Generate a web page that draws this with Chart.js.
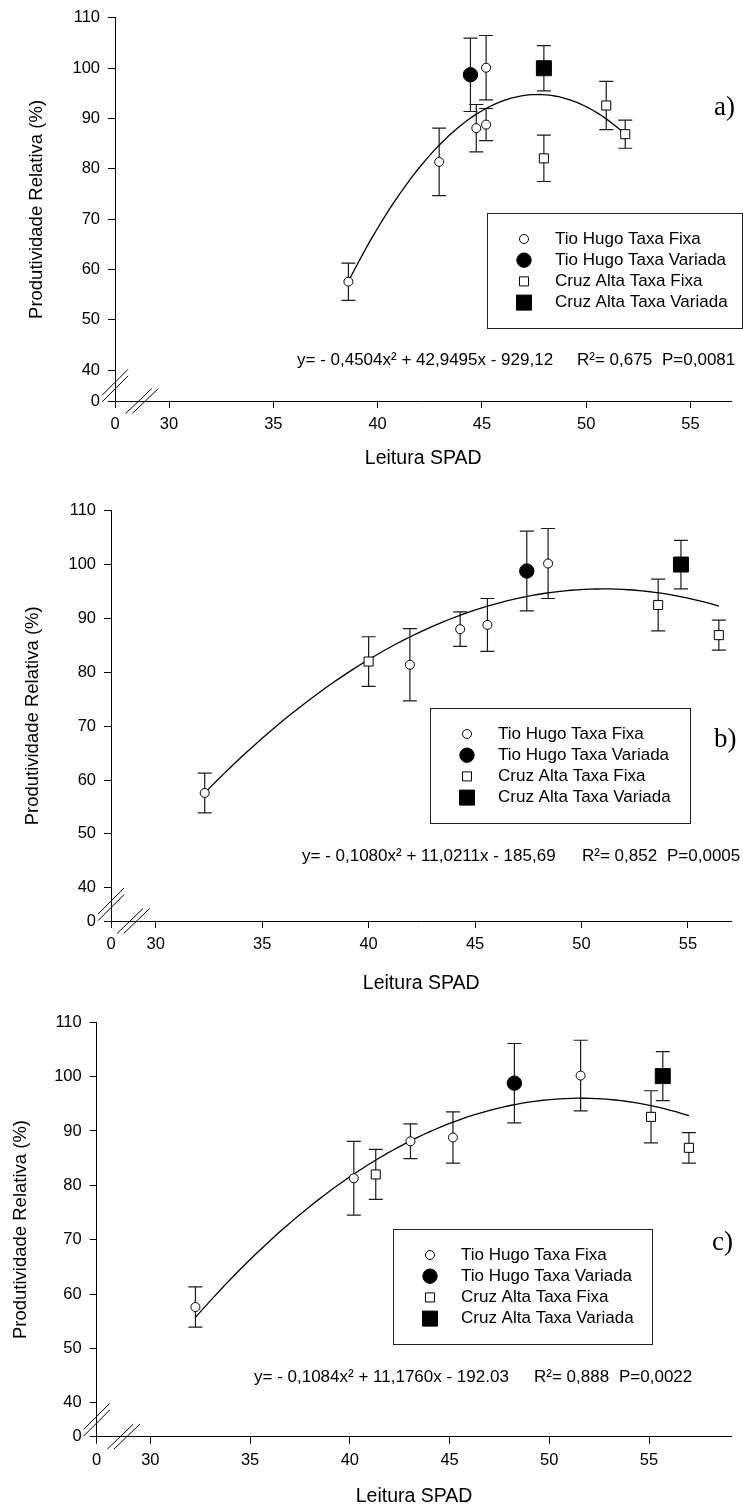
<!DOCTYPE html>
<html>
<head>
<meta charset="utf-8">
<script src="https://cdn.jsdelivr.net/npm/chart.js@4/dist/chart.umd.min.js"></script>
<style>
  html, body { margin: 0; padding: 0; background: #fff; }
  #page { position: relative; width: 743px; height: 1508px; overflow: hidden; }
  .panel { position: absolute; left: 0; width: 743px; }
</style>
</head>
<body>
<div id="page">
  <div class="panel" style="top:0;height:485px"><canvas id="chartA"></canvas></div>
  <div class="panel" style="top:490px;height:510px"><canvas id="chartB"></canvas></div>
  <div class="panel" style="top:1000px;height:508px"><canvas id="chartC"></canvas></div>
</div>
<script>
var seriesNames = ['Tio Hugo Taxa Fixa', 'Tio Hugo Taxa Variada', 'Cruz Alta Taxa Fixa', 'Cruz Alta Taxa Variada'];
var xTickValues = [30, 35, 40, 45, 50, 55];
var yTickValues = [40, 50, 60, 70, 80, 90, 100, 110];

// a) SPAD reading, relative yield and error
var spadA_thFixa = [38.6, 42.95, 44.73, 45.2, 45.2];
var prodA_thFixa = [57.6, 81.4, 88.1, 100.1, 88.8];
var errA_thFixa  = [3.7, 6.7, 4.7, 6.4, 3.2];
var spadA_thVar  = [44.45];
var prodA_thVar  = [98.7];
var errA_thVar   = [7.3];
var spadA_caFixa = [47.97, 50.96, 51.87];
var prodA_caFixa = [82.1, 92.6, 86.9];
var errA_caFixa  = [4.6, 4.8, 2.8];
var spadA_caVar  = [47.97];
var prodA_caVar  = [100.0];
var errA_caVar   = [4.5];

// b)
var spadB_thFixa = [32.3, 41.94, 44.3, 45.58, 48.43];
var prodB_thFixa = [57.6, 81.4, 88.0, 88.8, 100.2];
var errB_thFixa  = [3.7, 6.7, 3.2, 4.9, 6.5];
var spadB_thVar  = [47.43];
var prodB_thVar  = [98.8];
var errB_thVar   = [7.4];
var spadB_caFixa = [40.0, 53.6, 56.45];
var prodB_caFixa = [82.0, 92.5, 86.9];
var errB_caFixa  = [4.6, 4.8, 2.8];
var spadB_caVar  = [54.67];
var prodB_caVar  = [100.0];
var errB_caVar   = [4.5];

// c)
var spadC_thFixa = [32.26, 40.2, 43.04, 45.17, 51.57];
var prodC_thFixa = [57.6, 81.3, 88.1, 88.8, 100.2];
var errC_thFixa  = [3.7, 6.8, 3.2, 4.7, 6.5];
var spadC_thVar  = [48.25];
var prodC_thVar  = [98.8];
var errC_thVar   = [7.3];
var spadC_caFixa = [41.3, 55.1, 57.0];
var prodC_caFixa = [82.0, 92.6, 86.9];
var errC_caFixa  = [4.6, 4.8, 2.8];
var spadC_caVar  = [55.69];
var prodC_caVar  = [100.1];
var errC_caVar   = [4.5];

// quadratic fits: y = a x^2 + b x + c
var fitA = [-0.4504, 42.9495, -929.12];
var fitB = [-0.1080, 11.0211, -185.69];
var fitC = [-0.1084, 11.1760, -192.03];
var eqA = ['y= - 0,4504x² + 42,9495x - 929,12', 'R²= 0,675', 'P=0,0081'];
var eqB = ['y= - 0,1080x² + 11,0211x - 185,69', 'R²= 0,852', 'P=0,0005'];
var eqC = ['y= - 0,1084x² + 11,1760x - 192.03', 'R²= 0,888', 'P=0,0022'];

var SANS = "'Liberation Sans', Arial, sans-serif";
var SERIF = "'Liberation Serif', 'Times New Roman', serif";

var markerStyles = [
  { pointStyle: 'circle', radius: 4.5, fill: '#fff' },
  { pointStyle: 'circle', radius: 7.2, fill: '#000' },
  { pointStyle: 'rect', radius: 6.4, fill: '#fff' },
  { pointStyle: 'rect', radius: 10.6, fill: '#000' }
];

function zip(xs, ys, es) {
  return xs.map(function (x, i) { return { x: x, y: ys[i], err: es[i] }; });
}

function curvePoints(coef, x0, x1) {
  var pts = [];
  for (var i = 0; i <= 80; i++) {
    var x = x0 + (x1 - x0) * i / 80;
    pts.push({ x: x, y: coef[0] * x * x + coef[1] * x + coef[2] });
  }
  return pts;
}

// vertical error bars with caps, under the markers
var errorBars = {
  id: 'errorBars',
  beforeDatasetsDraw: function (chart) {
    var ctx = chart.ctx, ys = chart.scales.y;
    ctx.save();
    ctx.strokeStyle = '#1a1a1a';
    ctx.lineWidth = 1.2;
    chart.data.datasets.forEach(function (ds, di) {
      if (!ds.errorBars) return;
      chart.getDatasetMeta(di).data.forEach(function (pt, i) {
        var d = ds.data[i];
        var top = ys.getPixelForValue(d.y + d.err);
        var bot = ys.getPixelForValue(d.y - d.err);
        ctx.beginPath();
        ctx.moveTo(pt.x, top); ctx.lineTo(pt.x, bot);
        ctx.moveTo(pt.x - 7, top); ctx.lineTo(pt.x + 7, top);
        ctx.moveTo(pt.x - 7, bot); ctx.lineTo(pt.x + 7, bot);
        ctx.stroke();
      });
    });
    ctx.restore();
  }
};

function drawMarker(ctx, m, x, y) {
  ctx.beginPath();
  if (m.pointStyle === 'circle') {
    ctx.arc(x, y, m.radius, 0, Math.PI * 2);
  } else {
    var s = m.radius * Math.SQRT1_2;
    ctx.rect(x - s, y - s, 2 * s, 2 * s);
  }
  ctx.fillStyle = m.fill;
  ctx.fill();
  ctx.strokeStyle = '#000';
  ctx.lineWidth = 1;
  ctx.stroke();
}

// axis breaks, legend box, equation and panel letter
function panelText(L, eq) {
  return {
    id: 'panelText',
    afterDraw: function (chart) {
      var ctx = chart.ctx, a = chart.chartArea;
      var xs = chart.scales.x, ys = chart.scales.y;
      var top = L.top;
      ctx.save();

      // broken axes: double slashes between 0 and the first real tick
      var by = (ys.getPixelForValue(40) + a.bottom) / 2;
      var bx = (xs.getPixelForValue(30) + a.left) / 2;
      ctx.strokeStyle = '#000';
      ctx.lineWidth = 1;
      [-3.3, 3.3].forEach(function (o) {
        ctx.beginPath();
        ctx.moveTo(a.left - 13, by + 13 + o); ctx.lineTo(a.left + 13, by - 13 + o);
        ctx.moveTo(bx - 13 + o, a.bottom + 12.5); ctx.lineTo(bx + 13 + o, a.bottom - 12.5);
        ctx.stroke();
      });

      // legend
      var lg = L.legend;
      ctx.strokeStyle = '#222';
      ctx.strokeRect(lg.x + 0.5, lg.y - top + 0.5, lg.w, lg.h);
      ctx.font = '17px ' + SANS;
      ctx.textBaseline = 'middle';
      ctx.textAlign = 'left';
      seriesNames.forEach(function (name, k) {
        var ry = lg.y - top + 26 + 21.2 * k;
        drawMarker(ctx, markerStyles[k], lg.x + 37, ry);
        ctx.fillStyle = '#000';
        ctx.fillText(name, lg.x + 68, ry);
      });

      // regression equation
      ctx.fillStyle = '#000';
      ctx.font = '17px ' + SANS;
      ctx.fillText(eq[0], L.eq.x, L.eq.y - top);
      ctx.fillText(eq[1], L.eq.x + 280, L.eq.y - top);
      ctx.fillText(eq[2], L.eq.x + 365, L.eq.y - top);

      // panel letter
      ctx.font = '27px ' + SERIF;
      ctx.fillText(L.tag, L.tagX, L.tagY - top);
      ctx.restore();
    }
  };
}

function buildPanel(id, L, series, fit, eq) {
  var datasets = series.map(function (s, k) {
    var m = markerStyles[k];
    return {
      label: seriesNames[k],
      data: zip(s[0], s[1], s[2]),
      errorBars: true,
      showLine: false,
      pointStyle: m.pointStyle,
      pointRadius: m.radius,
      pointHoverRadius: m.radius,
      pointBackgroundColor: m.fill,
      pointBorderColor: '#000',
      pointBorderWidth: 1,
      order: 1
    };
  });
  var allX = [];
  series.forEach(function (s) { allX = allX.concat(s[0]); });
  datasets.push({
    label: 'ajuste',
    data: curvePoints(fit, Math.min.apply(null, allX), Math.max.apply(null, allX)),
    showLine: true,
    pointRadius: 0,
    borderColor: '#000',
    borderWidth: 1.3,
    order: 5
  });

  var tickFont = { family: SANS, size: 16.5 };
  var xTitleFont = { family: SANS, size: 19.5 };
  var yTitleFont = { family: SANS, size: 18.5 };
  var xMin = L.xRange[0], yMin = L.yRange[0];

  new Chart(document.getElementById(id), {
    type: 'scatter',
    data: { datasets: datasets },
    options: {
      responsive: true,
      maintainAspectRatio: false,
      animation: false,
      events: [],
      layout: { padding: { left: 0, top: L.area.top - L.top, right: 743 - L.area.right, bottom: 0 } },
      plugins: { legend: { display: false }, tooltip: { enabled: false } },
      scales: {
        x: {
          type: 'linear',
          min: xMin,
          max: L.xRange[1],
          afterBuildTicks: function (s) {
            s.ticks = [xMin].concat(xTickValues).map(function (v) { return { value: v }; });
          },
          afterFit: function (s) { s.height = L.height - (L.area.bottom - L.top); },
          ticks: {
            autoSkip: false,
            maxRotation: 0,
            padding: 7,
            color: '#000',
            font: tickFont,
            callback: function (v) { return Math.abs(v - xMin) < 1e-6 ? '0' : v; }
          },
          grid: { drawOnChartArea: false, drawTicks: true, tickLength: 7, tickColor: '#000', tickWidth: 1 },
          border: { display: true, color: '#000', width: 1 },
          title: {
            display: true,
            text: 'Leitura SPAD',
            color: '#000',
            font: xTitleFont,
            padding: { top: 0, bottom: Math.max(0, L.height - (L.xTitleY - L.top) - xTitleFont.size * 0.6) }
          }
        },
        y: {
          type: 'linear',
          min: yMin,
          max: L.yRange[1],
          afterBuildTicks: function (s) {
            s.ticks = [yMin].concat(yTickValues).map(function (v) { return { value: v }; });
          },
          afterFit: function (s) { s.width = L.area.left; },
          ticks: {
            autoSkip: false,
            padding: 8,
            color: '#000',
            font: tickFont,
            callback: function (v) { return Math.abs(v - yMin) < 1e-6 ? '0' : v; }
          },
          grid: { drawOnChartArea: false, drawTicks: true, tickLength: 7, tickColor: '#000', tickWidth: 1 },
          border: { display: true, color: '#000', width: 1 },
          title: {
            display: true,
            text: 'Produtividade Relativa (%)',
            color: '#000',
            font: yTitleFont,
            padding: { top: L.yTitleX - yTitleFont.size * 0.6, bottom: 0 }
          }
        }
      }
    },
    plugins: [errorBars, panelText(L, eq)]
  });
}

var layoutA = {
  top: 0, height: 485,
  area: { left: 115, right: 732, top: 15, bottom: 401 },
  xRange: [27.41, 56.96], yRange: [33.89, 110],
  xTitleY: 459, yTitleX: 37,
  legend: { x: 487, y: 213, w: 255, h: 115 },
  eq: { x: 297, y: 360 },
  tag: 'a)', tagX: 714, tagY: 108
};
var layoutB = {
  top: 490, height: 510,
  area: { left: 111, right: 740, top: 510.7, bottom: 921 },
  xRange: [27.90, 57.04], yRange: [33.83, 110],
  xTitleY: 984, yTitleX: 33,
  legend: { x: 430, y: 708, w: 260, h: 115 },
  eq: { x: 302, y: 856 },
  tag: 'b)', tagX: 714, tagY: 740
};
var layoutC = {
  top: 1000, height: 508,
  area: { left: 96.7, right: 735, top: 1022.3, bottom: 1436.7 },
  xRange: [27.31, 59.13], yRange: [33.74, 110],
  xTitleY: 1497, yTitleX: 21,
  legend: { x: 393, y: 1229, w: 259, h: 115 },
  eq: { x: 254, y: 1377 },
  tag: 'c)', tagX: 712, tagY: 1243
};

buildPanel('chartA', layoutA, [
  [spadA_thFixa, prodA_thFixa, errA_thFixa],
  [spadA_thVar, prodA_thVar, errA_thVar],
  [spadA_caFixa, prodA_caFixa, errA_caFixa],
  [spadA_caVar, prodA_caVar, errA_caVar]
], fitA, eqA);

buildPanel('chartB', layoutB, [
  [spadB_thFixa, prodB_thFixa, errB_thFixa],
  [spadB_thVar, prodB_thVar, errB_thVar],
  [spadB_caFixa, prodB_caFixa, errB_caFixa],
  [spadB_caVar, prodB_caVar, errB_caVar]
], fitB, eqB);

buildPanel('chartC', layoutC, [
  [spadC_thFixa, prodC_thFixa, errC_thFixa],
  [spadC_thVar, prodC_thVar, errC_thVar],
  [spadC_caFixa, prodC_caFixa, errC_caFixa],
  [spadC_caVar, prodC_caVar, errC_caVar]
], fitC, eqC);
</script>
</body>
</html>
